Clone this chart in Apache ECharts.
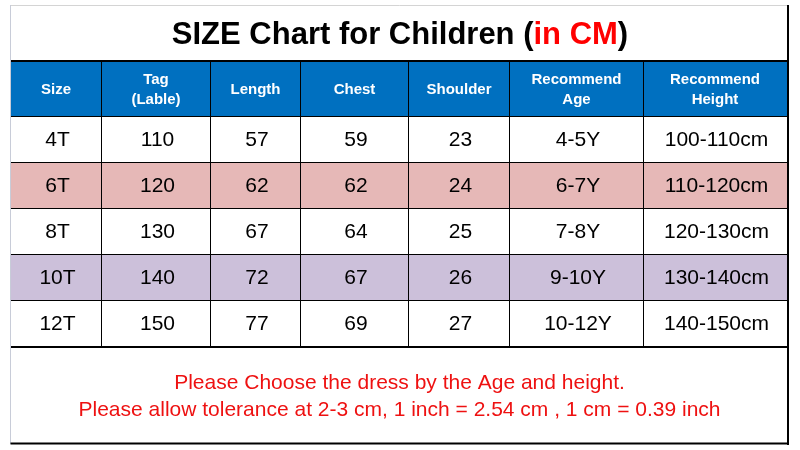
<!DOCTYPE html>
<html>
<head>
<meta charset="utf-8">
<script src="https://cdn.jsdelivr.net/npm/echarts@6/dist/echarts.min.js"></script>
<style>html,body{margin:0;padding:0;background:#fff;}#c{width:800px;height:450px;}</style>
</head>
<body>
<div id="c"></div>
<script>
// ---- data ----
const headers = ["Size", "Tag\n(Lable)", "Length", "Chest", "Shoulder", "Recommend\nAge", "Recommend\nHeight"];
const sizes = ["4T", "6T", "8T", "10T", "12T"];
const tags = [110, 120, 130, 140, 150];
const lengths = [57, 62, 67, 72, 77];
const chests = [59, 62, 64, 67, 69];
const shoulders = [23, 24, 25, 26, 27];
const ages = ["4-5Y", "6-7Y", "7-8Y", "9-10Y", "10-12Y"];
const heights = ["100-110cm", "110-120cm", "120-130cm", "130-140cm", "140-150cm"];
const notes = [
  "Please Choose the dress by the Age and height.",
  "Please allow tolerance at 2-3 cm, 1 inch = 2.54 cm , 1 cm = 0.39 inch"
];

// ---- layout / style ----
const colWidths = [91, 109, 90, 108, 101, 134, 143];
const rowHeights = [56, 46, 46, 46, 46, 46];
const rowFills = ["#0070C0", "#FFFFFF", "#E6B8B7", "#FFFFFF", "#CCC0DA", "#FFFFFF"];

const colEdges = [0];
colWidths.forEach(w => colEdges.push(colEdges[colEdges.length - 1] + w));
const rowEdges = [0];
rowHeights.forEach(h => rowEdges.push(rowEdges[rowEdges.length - 1] + h));

const columns = [sizes, tags, lengths, chests, shoulders, ages, heights];
const cells = [];
headers.forEach((h, c) => cells.push([c, 0, h]));
for (let r = 0; r < sizes.length; r++) {
  columns.forEach((col, c) => cells.push([c, r + 1, String(col[r])]));
}

const nCols = colWidths.length, nRows = rowHeights.length;
const FONT = 'Arial, "Liberation Sans", sans-serif';

function renderItem(params, api) {
  const cell = cells[params.dataIndex];
  const c = cell[0], r = cell[1], txt = cell[2];
  const p0 = api.coord([colEdges[c], rowEdges[r]]);
  const p1 = api.coord([colEdges[c + 1], rowEdges[r + 1]]);
  const x0 = p0[0], y0 = p0[1], x1 = p1[0], y1 = p1[1];
  const isHead = r === 0;
  const lastRow = r === nRows - 1;
  const children = [
    { type: 'rect', z2: 1, shape: { x: x0, y: y0 - 0.5, width: x1 - x0 + 0.5, height: y1 - y0 + 1 }, style: { fill: rowFills[r] } }
  ];
  if (c < nCols - 1) {
    children.push({ type: 'line', z2: 20, shape: { x1: x1, y1: y0, x2: x1, y2: y1 }, style: { stroke: '#000', lineWidth: 1 } });
  }
  children.push({ type: 'line', z2: 30, shape: { x1: x0 - 0.5, y1: y1 + (lastRow ? 0.5 : 0), x2: x1 + 0.5, y2: y1 + (lastRow ? 0.5 : 0) }, style: { stroke: '#000', lineWidth: lastRow ? 2 : 1 } });
  if (isHead) {
    children.push({ type: 'line', z2: 30, shape: { x1: x0 - 0.5, y1: y0 + 0.5, x2: x1 + 0.5, y2: y0 + 0.5 }, style: { stroke: '#000', lineWidth: 2 } });
  }
  children.push({
    type: 'text',
    z2: 40,
    style: {
      text: txt,
      x: (x0 + x1) / 2 + (isHead ? 0 : 1.5),
      y: (y0 + y1) / 2 + (isHead ? 1.5 : 0.5),
      align: 'center',
      verticalAlign: 'middle',
      fill: isHead ? '#FFFFFF' : '#000000',
      font: isHead ? 'bold 15px ' + FONT : '21px ' + FONT,
      lineHeight: isHead ? 20 : 22
    }
  });
  return { type: 'group', children: children };
}

const chart = echarts.init(document.getElementById('c'), null, { renderer: 'canvas' });
chart.setOption({
  backgroundColor: '#FFFFFF',
  animation: false,
  title: {
    text: '{a|SIZE Chart for Children (}{b|in CM}{a|)}',
    left: 'center',
    top: 15,
    textStyle: {
      rich: {
        a: { fontFamily: FONT, fontWeight: 'bold', fontSize: 31, color: '#000' },
        b: { fontFamily: FONT, fontWeight: 'bold', fontSize: 31, color: '#FF0000' }
      }
    }
  },
  grid: { left: 10.5, right: 800 - 10.5 - colEdges[nCols], top: 60.5, height: rowEdges[nRows], containLabel: false },
  xAxis: { type: 'value', min: 0, max: colEdges[nCols], show: false },
  yAxis: { type: 'value', min: 0, max: rowEdges[nRows], inverse: true, show: false },
  series: [{
    type: 'custom',
    renderItem: renderItem,
    data: cells.map(c => [c[0], c[1]]),
    silent: true,
    clip: false
  }],
  graphic: {
    elements: [
      { type: 'line', z: 100, shape: { x1: 10.5, y1: 5.5, x2: 788, y2: 5.5 }, style: { stroke: '#D4D4D4', lineWidth: 1 } },
      { type: 'line', z: 100, shape: { x1: 10.5, y1: 5, x2: 10.5, y2: 444 }, style: { stroke: '#C8CCD8', lineWidth: 1 } },
      { type: 'line', z: 100, shape: { x1: 788, y1: 5, x2: 788, y2: 445 }, style: { stroke: '#000', lineWidth: 2 } },
      { type: 'line', z: 100, shape: { x1: 10.5, y1: 443.5, x2: 789, y2: 443.5 }, style: { stroke: '#000', lineWidth: 2 } },
      { type: 'text', z: 100, style: { text: notes[0], x: 399.5, y: 383, align: 'center', verticalAlign: 'middle', fill: '#EE1111', font: '21px ' + FONT } },
      { type: 'text', z: 100, style: { text: notes[1], x: 399.5, y: 410, align: 'center', verticalAlign: 'middle', fill: '#EE1111', font: '21px ' + FONT } }
    ]
  }
});
</script>
</body>
</html>
